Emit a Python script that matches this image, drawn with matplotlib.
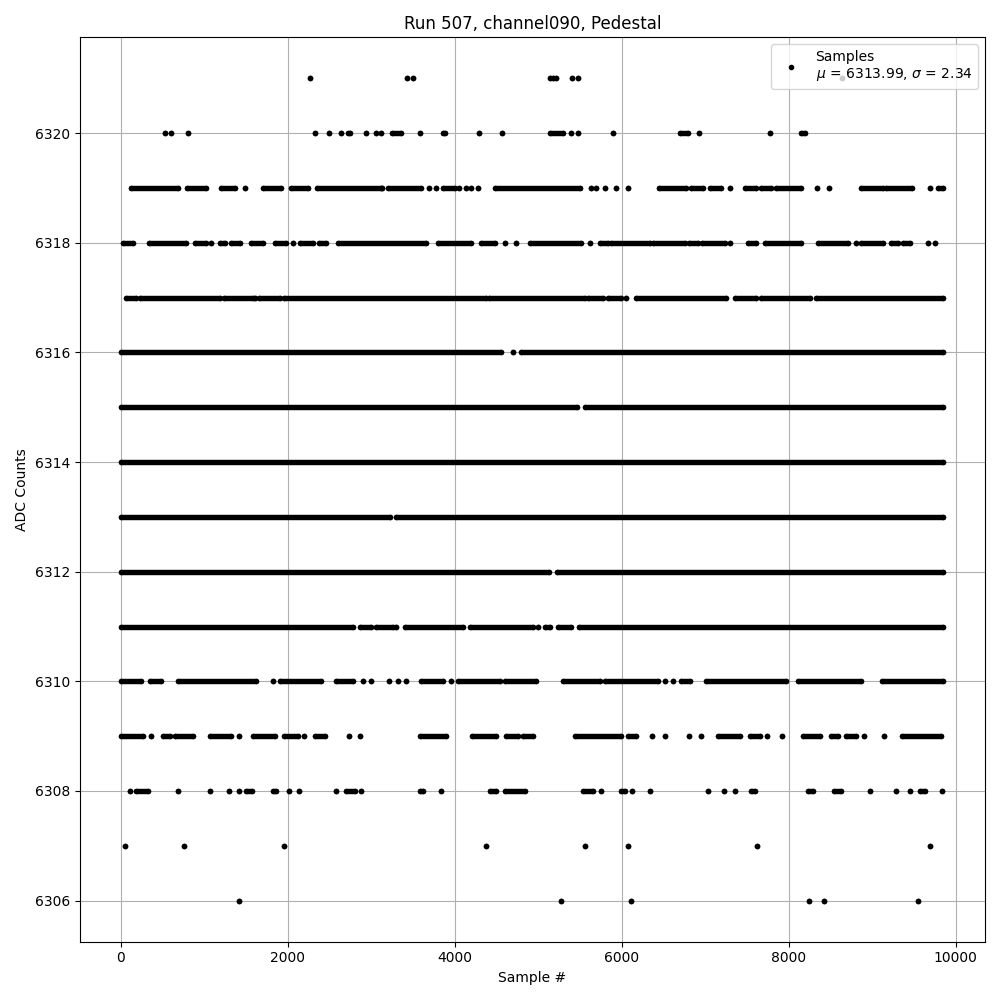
import matplotlib
matplotlib.use("Agg")
import matplotlib.pyplot as plt
from matplotlib.collections import LineCollection

# runs of samples at each ADC level, (first sample, last sample); a single dot is (x, x)
runs_6321 = [(2265, 2265), (3430, 3430), (3500, 3500), (5140, 5140), (5175, 5175),
             (5210, 5210), (5400, 5400), (5475, 5475), (8635, 8635)]
runs_6320 = [(527, 527), (599, 599), (806, 806), (2323, 2323), (2491, 2491), (2638, 2638),
             (2722, 2742), (2934, 2934), (3062, 3062), (3122, 3122), (3254, 3362),
             (3581, 3581), (3860, 3880), (4291, 4291), (4567, 4567), (5146, 5298),
             (5397, 5397), (5477, 5477), (5896, 5896), (6695, 6794), (6926, 6926),
             (7772, 7772), (8152, 8192)]
runs_6319 = [(128, 686), (794, 1018), (1206, 1365), (1493, 1493), (1704, 1925),
             (2036, 2243), (2351, 3122), (3134, 3134), (3201, 3601), (3689, 3689),
             (3781, 3781), (3860, 4000), (4051, 4051), (4140, 4140), (4200, 4200),
             (4279, 4279), (4479, 5497), (5637, 5637), (5697, 5697), (5805, 5805),
             (5928, 5928), (6076, 6076), (6447, 6775), (6835, 6974), (7054, 7194),
             (7293, 7293), (7473, 7613), (7673, 7793), (7853, 8152), (8339, 8339),
             (8479, 8479), (8871, 9130), (9162, 9470), (9689, 9689), (9788, 9850)]
runs_6318 = [(28, 148), (339, 786), (886, 1026), (1086, 1086), (1186, 1246), (1326, 1425),
             (1565, 1704), (1844, 1984), (2063, 2063), (2143, 2303), (2375, 2463),
             (2603, 3661), (3800, 4200), (4320, 4479), (4599, 4599), (4739, 4739),
             (4898, 5517), (5617, 5617), (5737, 5836), (5876, 6335), (6375, 6754),
             (6806, 6914), (6966, 7233), (7293, 7293), (7513, 7613), (7712, 8152),
             (8351, 8710), (8802, 8802), (8871, 9130), (9222, 9310), (9369, 9457),
             (9669, 9669), (9749, 9749)]
runs_6317 = [(68, 188), (236, 1186), (1234, 1585), (1605, 1605), (1656, 1904),
             (1956, 4380), (4411, 5557), (5597, 5776), (5836, 5996), (6056, 6056),
             (6168, 7253), (7353, 7613), (7673, 8252), (8331, 9850)]
runs_6316 = [(0, 4550), (4700, 4700), (4800, 9850)]
runs_6315 = [(0, 5460), (5560, 9850)]
runs_6314 = [(0, 9850)]
runs_6313 = [(0, 3230), (3300, 9850)]
runs_6312 = [(0, 5130), (5230, 9850)]
runs_6311 = [(0, 2782), (2862, 3002), (3062, 3261), (3293, 3293), (3401, 4100),
             (4180, 4938), (4998, 4998), (5078, 5138), (5237, 5397), (5489, 9850)]
runs_6310 = [(8, 248), (347, 487), (687, 1625), (1824, 1824), (1904, 2403), (2583, 2782),
             (2902, 2902), (3002, 3002), (3213, 3213), (3321, 3321), (3413, 3413),
             (3601, 3860), (3960, 3960), (4040, 4539), (4599, 4978), (5297, 5737),
             (5797, 6435), (6515, 6515), (6615, 6615), (6715, 6814), (7014, 7972),
             (8112, 8871), (9118, 9850)]
runs_6309 = [(0, 267), (367, 367), (507, 587), (647, 866), (1066, 1326), (1417, 1417),
             (1585, 1844), (1952, 2124), (2196, 2196), (2323, 2443), (2731, 2731),
             (2871, 2871), (3581, 3900), (4212, 4499), (4619, 4758), (4818, 4938),
             (5437, 5996), (6076, 6176), (6367, 6367), (6515, 6515), (6806, 6806),
             (6954, 6954), (7153, 7413), (7541, 7653), (7740, 7740), (7920, 7920),
             (8172, 8371), (8511, 8590), (8690, 8810), (8902, 8902), (9142, 9142),
             (9357, 9828)]
runs_6308 = [(108, 108), (188, 327), (687, 687), (1066, 1066), (1297, 1297), (1417, 1417),
             (1505, 1577), (1824, 1864), (2016, 2016), (2136, 2136), (2583, 2583),
             (2702, 2802), (2882, 2882), (3581, 3620), (3840, 3840), (4419, 4499),
             (4599, 4838), (5537, 5657), (5749, 5749), (5996, 6036), (6128, 6128),
             (6335, 6335), (7034, 7034), (7222, 7222), (7353, 7353), (7545, 7593),
             (8232, 8292), (8539, 8631), (8970, 8970), (9289, 9289), (9449, 9449),
             (9569, 9629), (9836, 9836)]
runs_6307 = [(53, 53), (763, 763), (1952, 1952), (4378, 4378), (5560, 5560),
             (6081, 6081), (7621, 7621), (9697, 9697)]
runs_6306 = [(1418, 1418), (5271, 5271), (6108, 6108), (8244, 8244), (8419, 8419),
             (9548, 9548)]

levels = [6321, 6320, 6319, 6318, 6317, 6316, 6315, 6314, 6313, 6312, 6311, 6310,
          6309, 6308, 6307, 6306]
all_runs = [runs_6321, runs_6320, runs_6319, runs_6318, runs_6317, runs_6316,
            runs_6315, runs_6314, runs_6313, runs_6312, runs_6311, runs_6310,
            runs_6309, runs_6308, runs_6307, runs_6306]

mu = 6313.99
sigma = 2.34

fig, ax = plt.subplots(figsize=(10, 10), dpi=100)

segs = []
xs, ys = [], []
for lvl, runs in zip(levels, all_runs):
    for a, b in runs:
        if b > a:
            segs.append([(a, lvl), (b, lvl)])
        xs += [a, b]
        ys += [lvl, lvl]

ax.add_collection(LineCollection(segs, colors="black", linewidths=3.9, capstyle="round"))
ax.plot(xs, ys, ".", color="black",
        label=f"Samples\n$\\mu$ = {mu:.2f}, $\\sigma$ = {sigma:.2f}")

ax.set_xlim(-490, 10350)
ax.set_title("Run 507, channel090, Pedestal")
ax.set_xlabel("Sample #")
ax.set_ylabel("ADC Counts")
ax.grid(True)
ax.legend(loc="upper right")
plt.tight_layout()
plt.savefig("out.png")
